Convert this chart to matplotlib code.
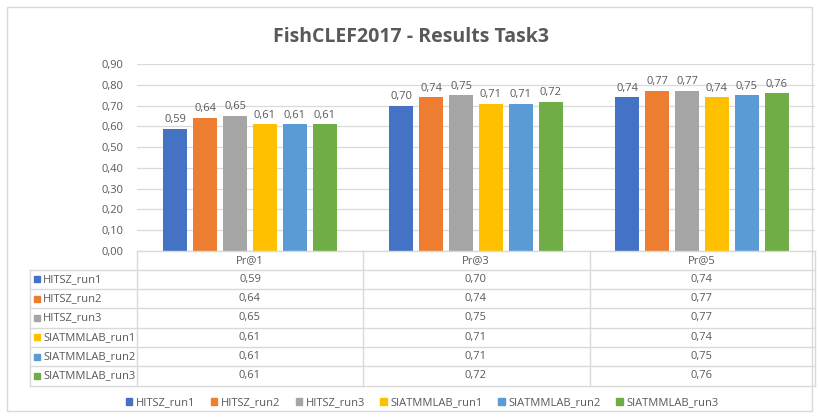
import matplotlib.pyplot as plt
import matplotlib.transforms as mtransforms
from matplotlib.patches import Rectangle
from matplotlib.lines import Line2D

plt.rcParams['font.family'] = ['Open Sans', 'DejaVu Sans']

categories = ['Pr@1', 'Pr@3', 'Pr@5']
runs = ['HITSZ_run1', 'HITSZ_run2', 'HITSZ_run3',
        'SIATMMLAB_run1', 'SIATMMLAB_run2', 'SIATMMLAB_run3']
hitsz_run1 = [0.59, 0.70, 0.74]
hitsz_run2 = [0.64, 0.74, 0.77]
hitsz_run3 = [0.65, 0.75, 0.77]
siat_run1 = [0.61, 0.71, 0.74]
siat_run2 = [0.61, 0.71, 0.75]
siat_run3 = [0.61, 0.72, 0.76]
values = [hitsz_run1, hitsz_run2, hitsz_run3, siat_run1, siat_run2, siat_run3]
colors = ['#4472C4', '#ED7D31', '#A5A5A5', '#FFC000', '#5B9BD5', '#70AD47']
yticks = [0.0, 0.1, 0.2, 0.3, 0.4, 0.5, 0.6, 0.7, 0.8, 0.9]

W, H = 819, 418
txt = '#595959'
grid = '#d9d9d9'
fs = 8


def fx(px):
    return px / W


def fy(py):
    return 1 - py / H


def comma(v):
    return ('%.2f' % v).replace('.', ',')


fig = plt.figure(figsize=(W / 100, H / 100), dpi=100)
fig.patches.append(Rectangle((fx(7), fy(411)), fx(805), (411 - 7) / H,
                             transform=fig.transFigure, fill=False,
                             edgecolor=grid, lw=1))

fig.text(fx(411), fy(37), 'FishCLEF2017 - Results Task3', ha='center',
         va='center', fontsize=14, fontweight='bold', color=txt)

left, right, top, bottom = 137, 815, 64.3, 250.7
ax = fig.add_axes([fx(left), fy(bottom), (right - left) / W, (bottom - top) / H])
ax.set_xlim(-0.5, 2.5)
ax.set_ylim(0, 0.9)
for s in ax.spines.values():
    s.set_visible(False)
ax.set_yticks(yticks)
ax.set_yticklabels([comma(t) for t in yticks], color=txt, fontsize=fs)
ax.tick_params(axis='y', length=0, pad=10)
ax.set_xticks([])
ax.yaxis.grid(True, color=grid, lw=0.9)
ax.set_axisbelow(True)

bw, step = 0.106, 0.1327
for j, (vals, c) in enumerate(zip(values, colors)):
    xs = [i + (j - 2.5) * step for i in range(len(categories))]
    ax.bar(xs, vals, width=bw, color=c)
    for x, v in zip(xs, vals):
        ax.text(x, v + 0.018, comma(v), ha='center', va='bottom',
                fontsize=fs, color=txt)

# data table under the axis
trans = mtransforms.blended_transform_factory(ax.transData, fig.transFigure)
row_top = 251
head_h = 18.5
row_h = 19.35
rows_y = [row_top + head_h + k * row_h for k in range(len(runs) + 1)]


def hline(x0, x1, y):
    fig.lines.append(Line2D([fx(x0), fx(x1)], [fy(y), fy(y)],
                            transform=fig.transFigure, color=grid, lw=1))


def vline(x, y0, y1):
    fig.lines.append(Line2D([fx(x), fx(x)], [fy(y0), fy(y1)],
                            transform=fig.transFigure, color=grid, lw=1))


hline(left, right, row_top)
for y in rows_y:
    hline(30, right, y)
vline(30, rows_y[0], rows_y[-1])
for xpx in [left, 363, 590, right]:
    vline(xpx, row_top, rows_y[-1])

for i, cat in enumerate(categories):
    ax.text(i, fy(row_top + head_h / 2), cat, transform=trans, ha='center',
            va='center', fontsize=fs, color=txt)

for k, (name, vals, c) in enumerate(zip(runs, values, colors)):
    yc = rows_y[k] + row_h / 2
    fig.patches.append(Rectangle((fx(34), fy(yc + 3)), fx(6), 6 / H,
                                 transform=fig.transFigure, color=c))
    fig.text(fx(43), fy(yc), name, ha='left', va='center', fontsize=fs,
             color=txt)
    for i, v in enumerate(vals):
        ax.text(i, fy(yc), comma(v), transform=trans, ha='center',
                va='center', fontsize=fs, color=txt)

handles = [Rectangle((0, 0), 1, 1, color=c) for c in colors]
fig.legend(handles, runs, loc='center', bbox_to_anchor=(fx(422), fy(403)),
           ncol=6, frameon=False, fontsize=fs, handlelength=0.6,
           handleheight=0.6, handletextpad=0.3, columnspacing=1.4,
           labelcolor=txt)

fig.savefig('out.png', dpi=100)
